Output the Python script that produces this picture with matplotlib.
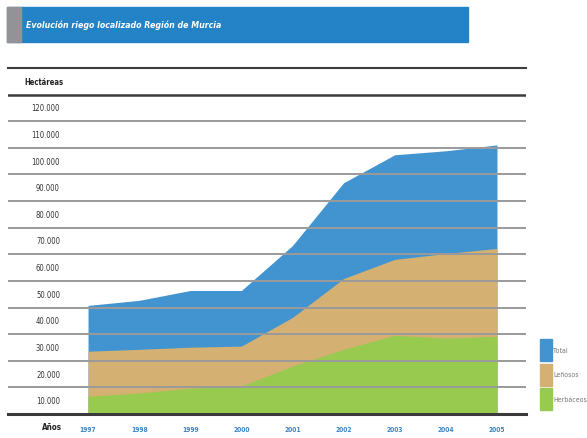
import matplotlib
matplotlib.use("Agg")
import matplotlib.pyplot as plt
from matplotlib.patches import Rectangle
from matplotlib.transforms import blended_transform_factory

plt.rcParams["font.family"] = ["DejaVu Sans"]
plt.rcParams["font.stretch"] = "condensed"

# data (hectáreas)
years = [1997, 1998, 1999, 2000, 2001, 2002, 2003, 2004, 2005]
total = [40800, 42700, 46400, 46400, 63300, 86900, 97400, 98900, 101100]
lenosos = [23600, 24300, 25100, 25500, 36300, 50900, 58100, 60300, 62200]
herbaceos = [6700, 7900, 9700, 10500, 18000, 24300, 29600, 28500, 29200]
ytick_vals = list(range(10000, 130000, 10000))
ytick_labels = [f"{v // 1000}.000" for v in ytick_vals]
series_names = ["Total", "Leñosos", "Herbáceos"]
series_colors = ["#4194d0", "#d4b073", "#98ca50"]

W, H = 587, 439
fig = plt.figure(figsize=(W / 100, H / 100), dpi=100)

# title bar
fig.patches.append(Rectangle((7 / W, 1 - 43 / H), 461 / W, 35 / H,
                             transform=fig.transFigure, color="#2483c6", zorder=0))
fig.patches.append(Rectangle((7 / W, 1 - 43 / H), 14 / W, 35 / H,
                             transform=fig.transFigure, color="#929396", zorder=1))
fig.text(26 / W, 1 - 25 / H, "Evolución riego localizado Región de Murcia",
         color="white", fontsize=6.3, style="italic", fontweight="bold", va="center")

# axes: 0 at y=415px, 130k at y=69px; x 8..526px
ax = fig.add_axes([8 / W, (H - 415) / H, 518 / W, 346 / H])
ax.set_ylim(0, 130000)
px_per_year = 51.1
ax.set_xlim(1997 - 80 / px_per_year, 2005 + 29 / px_per_year)
for s in ax.spines.values():
    s.set_visible(False)
ax.set_xticks([])
ax.set_yticks([])

data = [total, lenosos, herbaceos]
for vals, c in zip(data, series_colors):
    ax.fill_between(years, 0, vals, color=c, lw=0, zorder=1)

for v in ytick_vals[:-1]:
    ax.axhline(v, color="#9a9a9a", lw=1.4, zorder=2)
ax.axhline(120000, color="#3c3c3c", lw=1.8, zorder=2)
ax.axhline(130000, color="#3c3c3c", lw=1.5, zorder=2, clip_on=False)
ax.axhline(0, color="#3a3a3a", lw=2.2, zorder=3, clip_on=False)

tr = blended_transform_factory(ax.transAxes, ax.transData)
lab_x = (60 - 8) / 518
for v, lab in zip(ytick_vals, ytick_labels):
    ax.text(lab_x, v - 5000, lab, transform=tr, ha="right", va="center",
            fontsize=5.5, color="#333333")
ax.text((24 - 8) / 518, 125000, "Hectáreas", transform=tr, ha="left", va="center",
        fontsize=5.5, color="#222222", fontweight="bold")

# x labels below the axis
trx = blended_transform_factory(ax.transData, fig.transFigure)
for y in years:
    ax.text(y, 1 - 430 / H, str(y), transform=trx, ha="center", va="center",
            fontsize=4.8, color="#3a86c8", fontweight="bold")
fig.text(42 / W, 1 - 428 / H, "Años", fontsize=5.8, color="#222222",
         fontweight="bold", va="center")

# legend
for i, (name, c) in enumerate(zip(series_names, series_colors)):
    top = 340 + i * 24.5
    fig.patches.append(Rectangle((540 / W, 1 - (top + 22) / H), 12 / W, 22 / H,
                                 transform=fig.transFigure, color=c))
    fig.text(553 / W, 1 - (top + 11) / H, name, fontsize=5, color="#777777",
             va="center")

fig.savefig("out.png", dpi=100, facecolor="white")
